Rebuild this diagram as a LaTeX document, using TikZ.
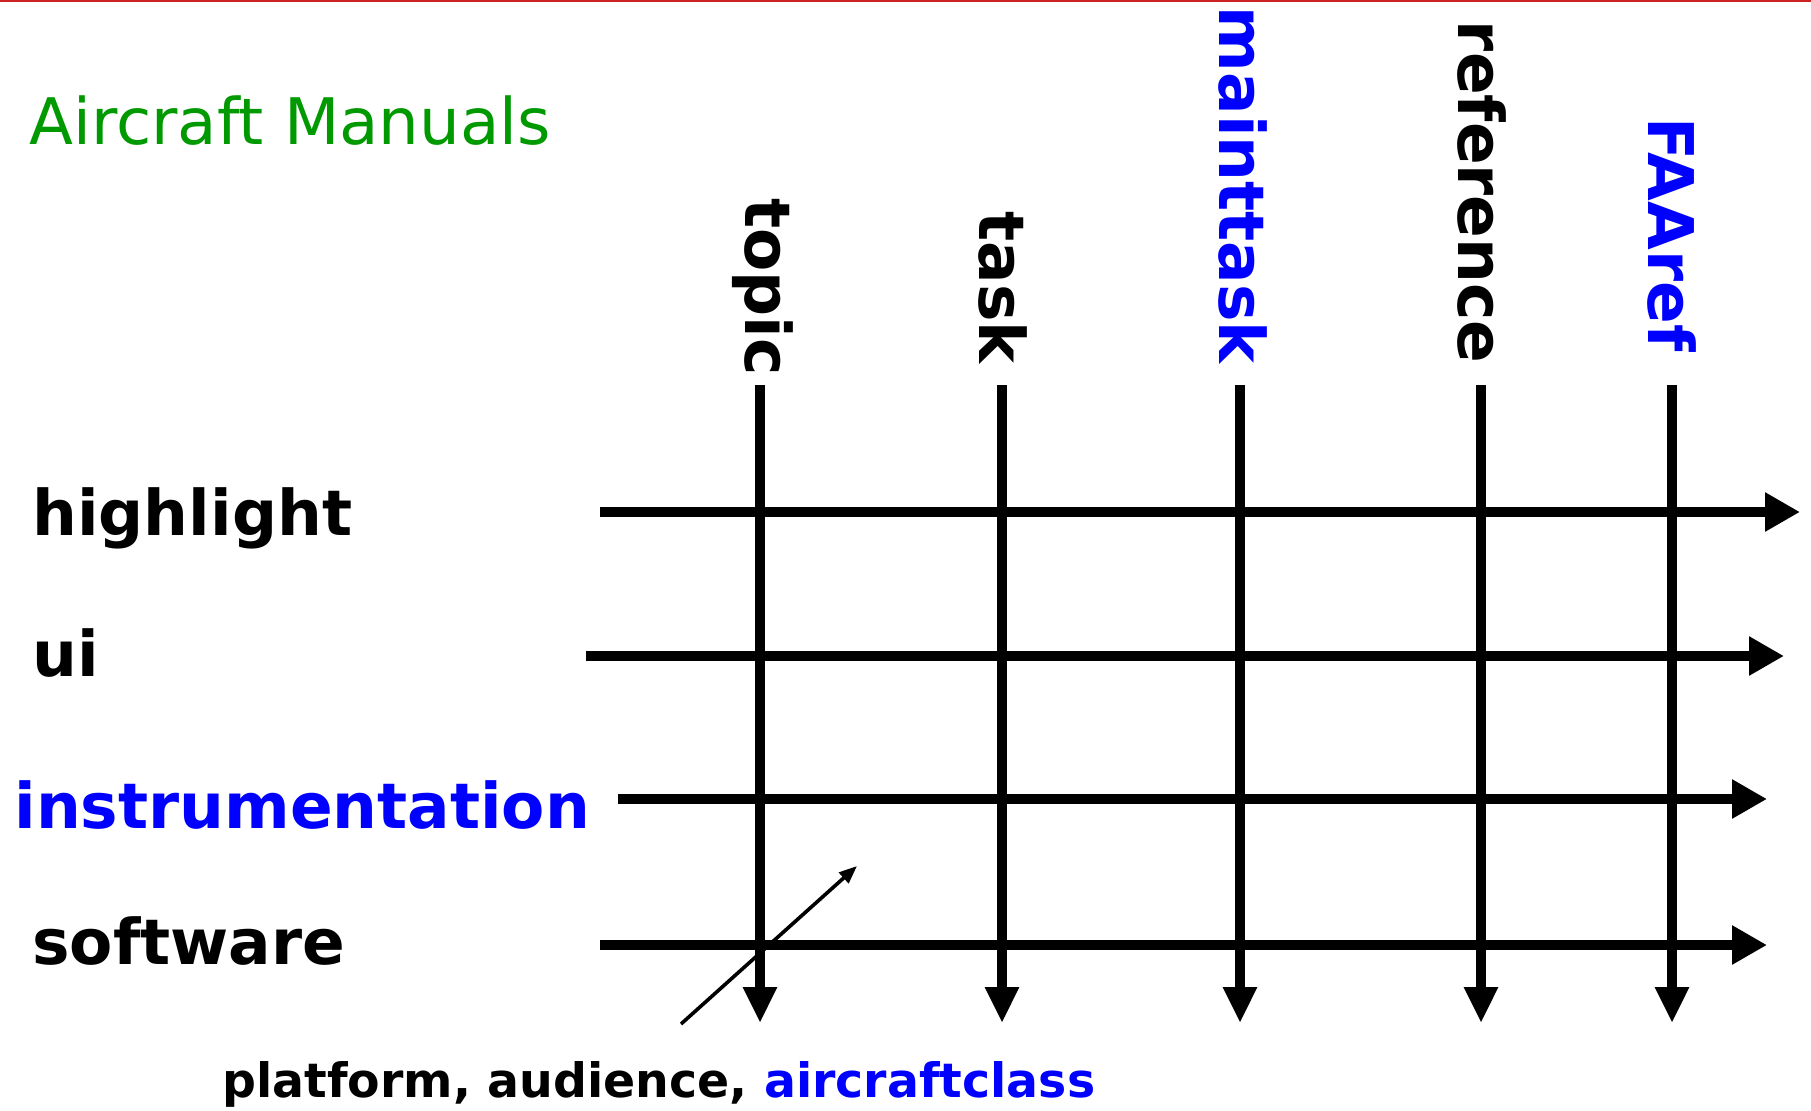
\documentclass[tikz,border=0pt]{standalone}
\usepackage{fontspec}
\setmainfont{DejaVu Sans}
\usetikzlibrary{arrows.meta}
\definecolor{mgreen}{RGB}{0,153,0}
\definecolor{mblue}{RGB}{0,0,255}
\definecolor{topred}{RGB}{204,34,34}
\begin{document}
\begin{tikzpicture}[x=0.5pt,y=-0.5pt,
  lbl/.style={inner sep=0pt,font=\fontsize{31.5}{36}\selectfont\bfseries},
  collbl/.style={lbl,rotate=-90,anchor=base east},
  rowlbl/.style={lbl,anchor=base west},
  haxis/.style={line width=5pt,-{Triangle[length=17.5pt,width=18.5pt]}},
  vaxis/.style={line width=5pt,-{Triangle[length=18pt,width=16pt]}},
  diag/.style={line width=1.8pt,-{Triangle[length=9pt,width=7pt]}},
]
\useasboundingbox (0,0) rectangle (1811,1110);
\fill[white] (0,0) rectangle (1811,1110);
\draw[topred,line width=1pt] (0,1) -- (1811,1);

% title
\node[inner sep=0pt,anchor=base west,text=mgreen,font=\fontsize{32.1}{36}\selectfont] (title) at (29,144) {Aircraft Manuals};

% column labels
\node[collbl] (topic) at (745,376) {topic};
\node[collbl] (task) at (979,364) {task};
\node[collbl,text=mblue] (mt) at (1219,364) {mainttask};
\node[collbl] (ref) at (1458,364) {reference};
\node[collbl,text=mblue] (faa) at (1648,352) {FAAref};

% row labels
\node[rowlbl] (hl) at (32,535) {highlight};
\node[rowlbl] (ui) at (32,676) {ui};
\node[rowlbl,text=mblue] (ins) at (14,828) {instrumentation};
\node[rowlbl] (sw) at (32,964) {software};

% bottom label
\node[inner sep=0pt,anchor=base west,font=\fontsize{23.7}{28}\selectfont\bfseries] (dims) at (222,1097) {platform, audience, \textcolor{mblue}{aircraftclass}};

% coordinates
\coordinate (topicS) at (760,385); \coordinate (topicE) at (760,1023);
\coordinate (taskS) at (1002,385); \coordinate (taskE) at (1002,1023);
\coordinate (mtS) at (1240,385); \coordinate (mtE) at (1240,1023);
\coordinate (refS) at (1481,385); \coordinate (refE) at (1481,1023);
\coordinate (faaS) at (1672,385); \coordinate (faaE) at (1672,1023);

\coordinate (hlS) at (600,512); \coordinate (hlE) at (1800,512);
\coordinate (uiS) at (586,656); \coordinate (uiE) at (1784,656);
\coordinate (insS) at (618,799); \coordinate (insE) at (1767,799);
\coordinate (swS) at (600,945); \coordinate (swE) at (1767,945);

\coordinate (dS) at (681,1024); \coordinate (dE) at (857,866);

% vertical axes
\foreach \c in {topic,task,mt,ref,faa}
  \draw[vaxis] (\c S) -- (\c E);
% horizontal axes
\foreach \r in {hl,ui,ins,sw}
  \draw[haxis] (\r S) -- (\r E);
% diagonal arrow
\draw[diag] (dS) -- (dE);
\end{tikzpicture}
\end{document}
